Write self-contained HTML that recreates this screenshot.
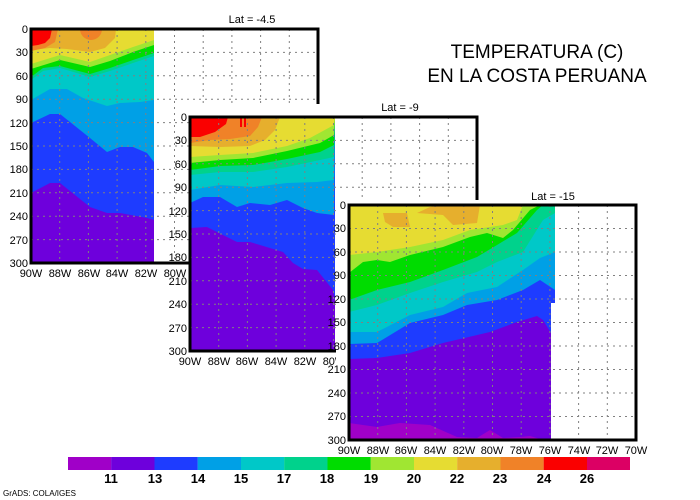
<!DOCTYPE html>
<html><head><meta charset="utf-8"><style>
html,body{margin:0;padding:0;background:#fff}
svg{display:block}
text{font-family:"Liberation Sans",sans-serif;fill:#000}
.t{font-size:11px}
.g{fill:none;stroke:#808080;stroke-width:1;stroke-dasharray:2,4}
.f{fill:none;stroke:#000;stroke-width:3}
</style></head><body>
<svg width="700" height="500" viewBox="0 0 700 500" xmlns="http://www.w3.org/2000/svg">
<rect width="700" height="500" fill="#fff"/>

<!-- Panel 1 -->
<g>
<rect x="31" y="29" width="123" height="234" fill="#6e00dc"/>
<polygon fill="#1e3cff" points="31,29 154,29 154,220 147,218 120,213 107,213 90,207 60,183 50,183 31,193"/>
<polygon fill="#00a0e6" points="31,29 154,29 154,162 147,153 133,147 120,147 107,152 90,138 60,114 50,114 31,123"/>
<polygon fill="#00c8c8" points="31,29 154,29 154,100 140,102 120,103 107,106 83,98 67,89 50,89 31,100"/>
<polygon fill="#00d28c" points="31,29 154,29 154,56 133,63 110,71 90,77 60,68 43,71 31,80"/>
<polygon fill="#00dc00" points="31,29 154,29 154,53 133,60 110,68 90,74 60,66 43,68 31,77"/>
<polygon fill="#a0e632" points="31,29 154,29 154,45 133,52 110,61 90,67 60,60 31,69"/>
<polygon fill="#e6dc32" points="31,29 154,29 154,40 133,47 110,55 90,62 60,55 31,64"/>
<polygon fill="#e6af2d" points="31,29 116,29 115,38 105,48 90,52 67,49 50,48 31,50"/>
<path fill="#f08228" d="M80,29 A11,11 0 0 0 102,29 Z"/>
<polygon fill="#f08228" points="31,29 58,29 55,42 45,48 31,51"/>
<polygon fill="#fa0000" points="31,29 52,29 50,38 45,43 38,45 31,46"/>
<path class="g" d="M59.7,29V263M88.4,29V263M117.1,29V263M145.8,29V263M174.5,29V263M203.2,29V263M231.9,29V263M260.6,29V263M289.3,29V263M31,52.4H318M31,75.8H318M31,99.2H318M31,122.6H318M31,146H318M31,169.4H318M31,192.8H318M31,216.2H318M31,239.6H318"/>
<rect class="f" x="31" y="29" width="287" height="234"/>
<text x="252" y="23" class="t" text-anchor="middle">Lat = -4.5</text>
<g class="t" text-anchor="end">
<text x="28" y="33">0</text><text x="28" y="56">30</text><text x="28" y="80">60</text><text x="28" y="103">90</text><text x="28" y="127">120</text><text x="28" y="150">150</text><text x="28" y="173">180</text><text x="28" y="197">210</text><text x="28" y="220">240</text><text x="28" y="244">270</text><text x="28" y="267">300</text>
</g>
<g class="t" text-anchor="middle">
<text x="31" y="277">90W</text><text x="60" y="277">88W</text><text x="89" y="277">86W</text><text x="117" y="277">84W</text><text x="146" y="277">82W</text><text x="175" y="277">80W</text>
</g>
</g>

<!-- Panel 2 -->
<g>
<rect x="190" y="104" width="292" height="265" fill="#fff"/>
<rect x="190" y="117" width="145" height="234" fill="#6e00dc"/>
<polygon fill="#1e3cff" points="190,117 335,117 335,300 333,290 317,270 303,269 293,263 283,252 260,245 250,242 237,242 207,227 190,228"/>
<polygon fill="#00a0e6" points="190,117 335,117 334,215 317,213 303,208 287,200 270,205 250,203 237,207 220,197 203,197 190,203"/>
<polygon fill="#00c8c8" points="190,117 335,117 334,180 317,182 287,183 253,187 220,185 190,190"/>
<polygon fill="#00d28c" points="190,117 335,117 334,157 320,160 287,167 253,172 220,172 190,175"/>
<polygon fill="#00dc00" points="190,117 335,117 334,145 320,152 287,159 253,165 220,166 190,170"/>
<polygon fill="#a0e632" points="190,117 335,117 334,135 320,143 287,151 253,158 220,160 190,163"/>
<polygon fill="#e6dc32" points="190,117 335,117 334,125 310,138 287,146 253,153 220,155 190,157"/>
<polygon fill="#e6af2d" points="190,117 280,117 275,130 265,140 250,146 220,147 190,146"/>
<polygon fill="#f08228" points="190,117 262,117 258,127 250,136 230,139 210,140 190,143"/>
<polygon fill="#fa0000" points="190,117 228,117 226,124 215,132 200,137 190,137"/>
<rect x="240" y="118" width="2" height="9" fill="#fa0000"/><rect x="244" y="118" width="2" height="9" fill="#fa0000"/>
<path class="g" d="M218.7,117V351M247.4,117V351M276.1,117V351M304.8,117V351M333.5,117V351M362.2,117V351M390.9,117V351M419.6,117V351M448.3,117V351M190,140.4H477M190,163.8H477M190,187.2H477M190,210.6H477M190,234H477M190,257.4H477M190,280.8H477M190,304.2H477M190,327.6H477"/>
<rect class="f" x="190" y="117" width="287" height="234"/>
<text x="400" y="111" class="t" text-anchor="middle">Lat = -9</text>
<g class="t" text-anchor="end">
<text x="187" y="121">0</text><text x="187" y="144">30</text><text x="187" y="168">60</text><text x="187" y="191">90</text><text x="187" y="215">120</text><text x="187" y="238">150</text><text x="187" y="261">180</text><text x="187" y="285">210</text><text x="187" y="308">240</text><text x="187" y="332">270</text><text x="187" y="355">300</text>
</g>
<g class="t" text-anchor="middle">
<text x="190" y="365">90W</text><text x="219" y="365">88W</text><text x="247" y="365">86W</text><text x="276" y="365">84W</text><text x="305" y="365">82W</text><text x="334" y="365">80W</text>
</g>
</g>

<!-- Panel 3 -->
<g>
<rect x="336" y="200" width="306" height="256" fill="#fff"/>
<rect x="349" y="205" width="202" height="235" fill="#6e00dc"/>
<polygon fill="#a000c8" points="349,440 349,423 377,427 400,423 430,425 457,437 477,438 490,430 503,438 520,437 530,436 540,439 540,440"/>
<polygon fill="#1e3cff" points="349,205 555,205 555,303 551,303 551,333 543,320 537,316 517,322 490,332 443,343 410,353 377,358 349,359"/>
<polygon fill="#00a0e6" points="349,205 555,205 555,290 540,280 523,290 497,300 467,305 443,315 410,323 377,343 349,344"/>
<polygon fill="#00c8c8" points="349,205 555,205 555,252 540,258 523,270 497,287 467,293 443,307 410,315 377,332 349,332"/>
<polygon fill="#00d28c" points="349,205 555,205 555,213 543,220 523,252 497,262 477,272 443,282 410,293 377,305 349,312"/>
<polygon fill="#00dc00" points="349,205 545,205 543,205 537,210 517,233 497,245 477,257 443,270 410,282 377,290 349,300"/>
<polygon fill="#a0e632" points="349,205 541,205 540,205 530,210 513,230 503,238 487,233 470,237 443,247 410,255 390,262 377,260 363,262 349,273"/>
<polygon fill="#e6dc32" points="349,205 524,205 523,205 517,220 503,225 470,230 443,240 410,247 377,252 349,255"/>
<polygon fill="#e6af2d" points="383,213 407,213 410,227 393,227 385,222"/>
<polygon fill="#e6af2d" points="417,213 430,207 440,205 480,205 477,223 453,225 443,215"/>
<path class="g" d="M377.7,205V440M406.4,205V440M435.1,205V440M463.8,205V440M492.5,205V440M521.2,205V440M549.9,205V440M578.6,205V440M607.3,205V440M349,228.5H636M349,252H636M349,275.5H636M349,299H636M349,322.5H636M349,346H636M349,369.5H636M349,393H636M349,416.5H636"/>
<rect class="f" x="349" y="205" width="287" height="235"/>
<text x="553" y="200" class="t" text-anchor="middle">Lat = -15</text>
<g class="t" text-anchor="end">
<text x="346" y="209">0</text><text x="346" y="232">30</text><text x="346" y="256">60</text><text x="346" y="279">90</text><text x="346" y="303">120</text><text x="346" y="326">150</text><text x="346" y="350">180</text><text x="346" y="373">210</text><text x="346" y="397">240</text><text x="346" y="420">270</text><text x="346" y="444">300</text>
</g>
<g class="t" text-anchor="middle">
<text x="349" y="454">90W</text><text x="378" y="454">88W</text><text x="406" y="454">86W</text><text x="435" y="454">84W</text><text x="464" y="454">82W</text><text x="492" y="454">80W</text><text x="521" y="454">78W</text><text x="550" y="454">76W</text><text x="579" y="454">74W</text><text x="607" y="454">72W</text><text x="636" y="454">70W</text>
</g>
</g>

<!-- Title -->
<text x="537" y="58" text-anchor="middle" style="font-size:19px">TEMPERATURA (C)</text>
<text x="537" y="82" text-anchor="middle" style="font-size:19px">EN LA COSTA PERUANA</text>

<!-- Colorbar -->
<g>
<rect x="68" y="457" width="43.3" height="13" fill="#a000c8"/>
<rect x="111.2" y="457" width="43.3" height="13" fill="#6e00dc"/>
<rect x="154.5" y="457" width="43.3" height="13" fill="#1e3cff"/>
<rect x="197.7" y="457" width="43.3" height="13" fill="#00a0e6"/>
<rect x="241" y="457" width="43.3" height="13" fill="#00c8c8"/>
<rect x="284.2" y="457" width="43.3" height="13" fill="#00d28c"/>
<rect x="327.5" y="457" width="43.3" height="13" fill="#00dc00"/>
<rect x="370.7" y="457" width="43.3" height="13" fill="#a0e632"/>
<rect x="414" y="457" width="43.3" height="13" fill="#e6dc32"/>
<rect x="457.2" y="457" width="43.3" height="13" fill="#e6af2d"/>
<rect x="500.5" y="457" width="43.3" height="13" fill="#f08228"/>
<rect x="543.7" y="457" width="43.3" height="13" fill="#fa0000"/>
<rect x="587" y="457" width="43" height="13" fill="#dc0064"/>
<g text-anchor="middle" style="font-size:13px;font-weight:bold">
<text x="111" y="483">11</text><text x="155" y="483">13</text><text x="198" y="483">14</text><text x="241" y="483">15</text><text x="284" y="483">17</text><text x="327" y="483">18</text><text x="371" y="483">19</text><text x="414" y="483">20</text><text x="457" y="483">22</text><text x="500" y="483">23</text><text x="544" y="483">24</text><text x="587" y="483">26</text>
</g>
</g>
<text x="3" y="496" style="font-size:8px">GrADS: COLA/IGES</text>
</svg>
</body></html>
